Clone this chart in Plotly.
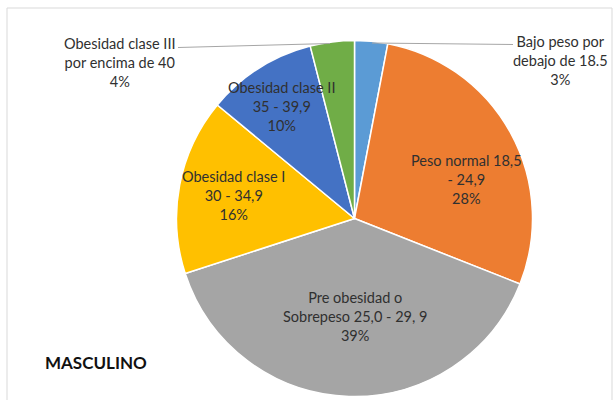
import plotly.graph_objects as go

labels = [
    "Bajo peso por<br>debajo de 18.5",
    "Peso normal 18,5<br>- 24,9",
    "Pre obesidad o<br>Sobrepeso 25,0 - 29, 9",
    "Obesidad clase I<br>30 - 34,9",
    "Obesidad clase II<br>35 - 39,9",
    "Obesidad clase III<br>por encima de 40",
]
values = [3, 28, 39, 16, 10, 4]
colors = ["#5B9BD5", "#ED7D31", "#A5A5A5", "#FFC000", "#4472C4", "#70AD47"]
title_text = "MASCULINO"

W, H = 613, 400
def px(x):
    return x / W
def py(y):
    return 1 - y / H

# label centre positions (pixels) in slice order
label_pos = [(560, 60), (466, 180), (355, 316), (234, 195), (281, 106), (120, 62)]

fig = go.Figure()
fig.add_trace(go.Pie(
    labels=labels,
    values=values,
    sort=False,
    direction="clockwise",
    rotation=0,
    textinfo="none",
    hoverinfo="label+percent",
    marker=dict(colors=colors, line=dict(color="white", width=1.5)),
    domain=dict(x=[px(176.5), px(532.5)], y=[py(396.5), py(40.5)]),
    showlegend=False,
))

total = sum(values)
annotations = []
for lab, v, (x, y) in zip(labels, values, label_pos):
    pct = round(100 * v / total)
    annotations.append(dict(
        x=px(x), y=py(y), xref="paper", yref="paper",
        text=f"{lab}<br>{pct}%", showarrow=False,
        xanchor="center", yanchor="middle", align="center",
        font=dict(family="Lato, Open Sans, sans-serif", size=14.5, color="#303030"),
    ))
annotations.append(dict(
    x=px(43), y=py(362), xref="paper", yref="paper",
    text=f"<b>{title_text}</b>", showarrow=False,
    xanchor="left", yanchor="middle",
    font=dict(family="Lato, Open Sans, sans-serif", size=17, color="#111111"),
))

shapes = [
    # chart frame
    dict(type="rect", xref="paper", yref="paper",
         x0=px(7), x1=px(612), y0=py(420), y1=py(8),
         line=dict(color="#d9d9d9", width=1), fillcolor="rgba(0,0,0,0)"),
    # leader lines
    dict(type="line", xref="paper", yref="paper",
         x0=px(372), y0=py(43), x1=px(513), y1=py(44.5),
         line=dict(color="#a6a6a6", width=1)),
    dict(type="line", xref="paper", yref="paper",
         x0=px(178), y0=py(47.5), x1=px(330), y1=py(43.5),
         line=dict(color="#a6a6a6", width=1)),
]

fig.update_layout(
    width=W, height=H,
    margin=dict(l=0, r=0, t=0, b=0),
    paper_bgcolor="white",
    plot_bgcolor="white",
    annotations=annotations,
    shapes=shapes,
)

fig.write_html(
    "out.html",
    config={"displayModeBar": False},
    post_script="document.body.style.margin='0';document.body.style.padding='0';document.body.style.overflow='hidden';",
)
